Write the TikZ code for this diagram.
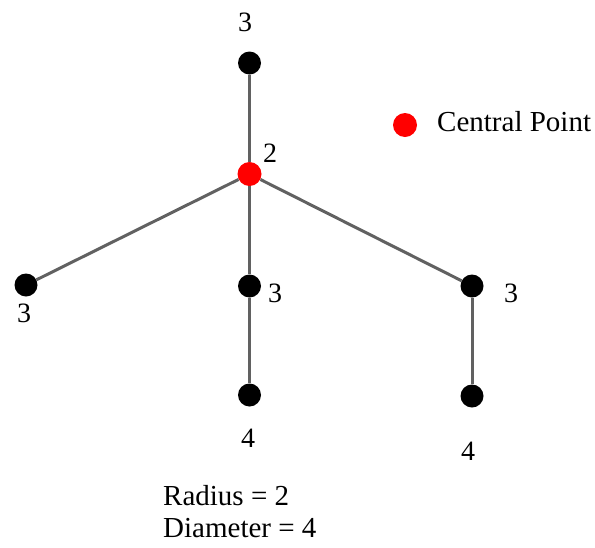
\documentclass[tikz,border=0pt]{standalone}
\usepackage{fontspec}
\setmainfont{Liberation Serif}
\begin{document}
\begin{tikzpicture}[x=1pt,y=-1pt,
  vtx/.style={circle,fill=black,inner sep=0pt,minimum size=23pt},
  cvtx/.style={circle,fill=red,inner sep=0pt,minimum size=24pt},
  edge/.style={draw=black!62,line width=3pt},
  lbl/.style={font=\fontsize{28}{30}\selectfont,anchor=base,inner sep=0pt},
  txt/.style={font=\fontsize{29}{31}\selectfont,anchor=base west,inner sep=0pt}]
\useasboundingbox (0,0) rectangle (595,547);
\node[vtx] (top) at (249.5,63) {};
\node[cvtx] (c) at (249.5,174) {};
\node[vtx] (l) at (26,285) {};
\node[vtx] (m) at (249.5,286) {};
\node[vtx] (r) at (472,286) {};
\node[vtx] (mb) at (249.5,395) {};
\node[vtx] (rb) at (472,396) {};
\draw[edge] (c) -- (top);
\draw[edge] (c) -- (l);
\draw[edge] (c) -- (m);
\draw[edge] (c) -- (r);
\draw[edge] (m) -- (mb);
\draw[edge] (r) -- (rb);
\node[lbl] (ltop) at (245,31) {3};
\node[lbl] (lc) at (270,162) {2};
\node[lbl] (ll) at (24,322) {3};
\node[lbl] (lm) at (275,302) {3};
\node[lbl] (lr) at (511,302) {3};
\node[lbl] (lmb) at (248,447) {4};
\node[lbl] (lrb) at (468,460) {4};
\node[cvtx] (leg) at (405,125) {};
\node[txt] (legt) at (437,131) {Central Point};
\node[txt] (rad) at (163,505) {Radius = 2};
\node[txt] (dia) at (163,537) {Diameter = 4};
\end{tikzpicture}
\end{document}
